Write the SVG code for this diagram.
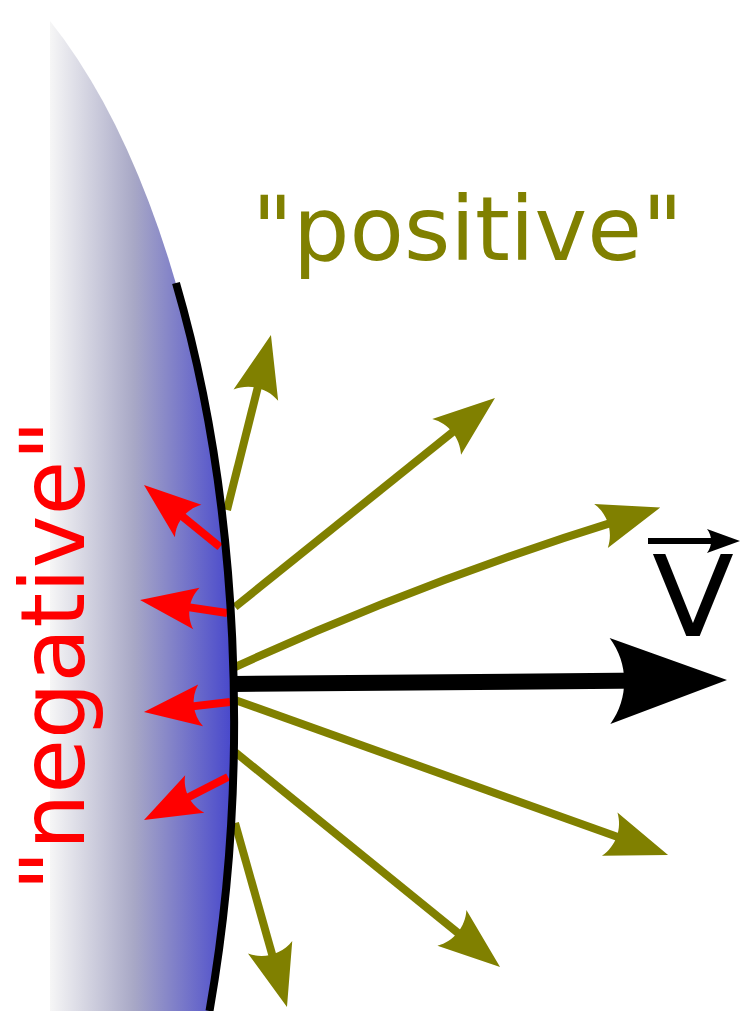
<svg xmlns="http://www.w3.org/2000/svg" width="741" height="1011" viewBox="0 0 741 1011">
<style>
.olive{fill:none;stroke:#808000;stroke-width:8;marker-end:url(#hOlive)}
.red{fill:none;stroke:#ff0000;stroke-width:8;marker-end:url(#hRed)}
.lbl{font-family:"DejaVu Sans",sans-serif;font-size:89px}
</style>
<defs>
<linearGradient id="grad" gradientUnits="userSpaceOnUse" x1="50" y1="0" x2="236" y2="0">
<stop offset="0" stop-color="#f6f6f6"/>
<stop offset="0.45" stop-color="#a8a8c6"/>
<stop offset="1" stop-color="#4444cc"/>
</linearGradient>
<marker id="hOlive" markerUnits="userSpaceOnUse" orient="auto" refX="-40" refY="0" markerWidth="1" markerHeight="1" overflow="visible">
<path d="M0,0 L-62,-23 C-52,-9.3 -52,9.3 -62,23 Z" fill="#808000"/>
</marker>
<marker id="hRed" markerUnits="userSpaceOnUse" orient="auto" refX="-40" refY="0" markerWidth="1" markerHeight="1" overflow="visible">
<path d="M0,0 L-57,-21 C-48,-8.5 -48,8.5 -57,21 Z" fill="#ff0000"/>
</marker>
<marker id="hBlack" markerUnits="userSpaceOnUse" orient="auto" refX="-80" refY="0" markerWidth="1" markerHeight="1" overflow="visible">
<path d="M0,0 L-117,-43 C-98,-17.4 -98,17.4 -117,43 Z" fill="#000"/>
</marker>
<marker id="hSmall" markerUnits="userSpaceOnUse" orient="auto" refX="-25" refY="0" markerWidth="1" markerHeight="1" overflow="visible">
<path d="M0,0 L-33,-12 C-27.5,-4.9 -27.5,4.9 -33,12 Z" fill="#000"/>
</marker>
</defs>
<rect width="741" height="1011" fill="#fff"/>
<g id="body">
<path d="M50,21 A358,800 0 0,1 209.5,1011 L50,1011 Z" fill="url(#grad)"/>
</g>
<g id="connectors">
<path class="red" d="M220,547 L175,510.3"/>
<path class="red" d="M227,613 L179.6,605.9"/>
<path class="red" d="M230,702 L183.7,707.4"/>
<path class="red" d="M228,777 L179.6,801.8"/>
<path class="olive" d="M227,510 L261.2,373.8"/>
<path class="olive" d="M235,607 L463.8,423.1"/>
<path class="olive" d="M233,668 Q420,582 622,519.4"/>
<path class="olive" d="M235,700 L630.4,841.5"/>
<path class="olive" d="M235,752 L469,941.8"/>
<path class="olive" d="M235,823 L276.1,968.5"/>
<path d="M233,684 L647,680.6" fill="none" stroke="#000" stroke-width="16" marker-end="url(#hBlack)"/>
</g>
<g id="surface">
<path d="M176,283 A358,800 0 0,1 209.5,1011" fill="none" stroke="#000" stroke-width="8"/>
</g>
<g id="label-positive">
<text class="lbl" x="252" y="260" fill="#808000">"positive"</text>
</g>
<g id="label-negative">
<text class="lbl" transform="translate(84,891) rotate(-90)" fill="#ff0000">"negative"</text>
</g>
<g id="label-v">
<text x="652" y="636" font-family="DejaVu Sans, sans-serif" font-size="112" fill="#000" transform="translate(652,636) scale(1.07,1) translate(-652,-636)">V</text>
<path d="M648,541 L715,541" fill="none" stroke="#000" stroke-width="6" marker-end="url(#hSmall)"/>
</g>
</svg>
